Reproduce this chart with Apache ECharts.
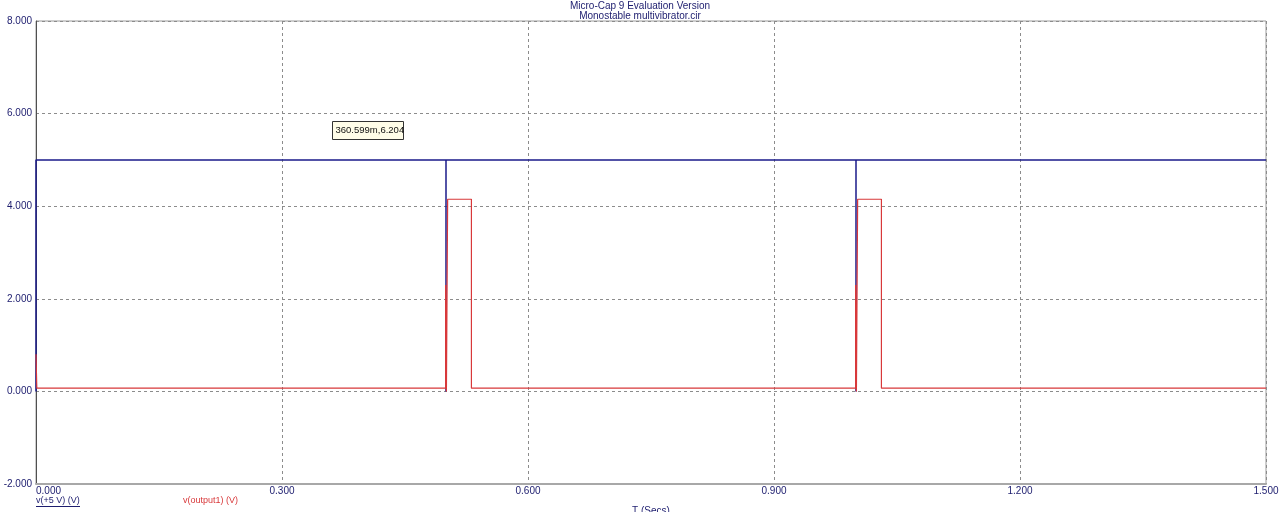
<!DOCTYPE html>
<html><head><meta charset="utf-8">
<script src="https://cdn.jsdelivr.net/npm/echarts@6/dist/echarts.min.js"></script>
<style>html,body{margin:0;padding:0;background:#fff}#c{width:1280px;height:512px}</style>
</head><body><div id="c"></div>
<script>
const titleLines = ['Micro-Cap 9 Evaluation Version', 'Monostable multivibrator.cir'];
const xName = 'T (Secs)';
const seriesNames = ['v(+5 V) (V)', 'v(output1) (V)'];
const cursorLabel = '360.599m,6.204';
const xTicks = [0, 0.3, 0.6, 0.9, 1.2, 1.5];
const yTicks = [-2, 0, 2, 4, 6, 8];
const blueT = [0, 0, 0.5, 0.5, 0.5, 1.0, 1.0, 1.0, 1.5];
const blueV = [0, 5, 5, 0, 5, 5, 0, 5, 5];
const redT = [0, 0.001, 0.4995, 0.4995, 0.5005, 0.502, 0.502, 0.531, 0.531, 0.9995, 0.9995, 1.0005, 1.002, 1.002, 1.031, 1.031, 1.5];
const redV = [0.8, 0.07, 0.07, 2.3, 0, 0, 4.15, 4.15, 0.07, 0.07, 2.3, 0, 0, 4.15, 4.15, 0.07, 0.07];

const navy = '#1c1c6e';
const blue = '#1a1a8a';
const red = '#d8383a';
const font = 'Liberation Sans';
const chart = echarts.init(document.getElementById('c'));
chart.setOption({
  animation: false,
  title: {
    text: titleLines.join('\n'), left: 'center', top: -4,
    textStyle: {fontSize: 10, fontWeight: 'normal', color: navy, fontFamily: font, lineHeight: 10}
  },
  grid: {left: 36, right: 14, top: 21, bottom: 28, show: true, borderColor: '#9a9a9a', borderWidth: 1,
    containLabel: false, outerBoundsMode: 'none'},
  xAxis: {
    type: 'value', min: xTicks[0], max: xTicks[xTicks.length - 1], interval: 0.3,
    name: xName, nameLocation: 'middle', nameGap: 22,
    nameTextStyle: {fontSize: 10, color: navy, fontFamily: font},
    axisLine: {show: true, onZero: false, lineStyle: {color: '#a8a8a8', width: 2}},
    axisTick: {show: false},
    axisLabel: {fontSize: 10, color: navy, fontFamily: font, margin: 2, alignMinLabel: 'left',
      formatter: v => v.toFixed(3)},
    splitLine: {show: true, lineStyle: {type: [3, 3], color: '#8c8c8c', width: 1}}
  },
  yAxis: {
    type: 'value', min: yTicks[0], max: yTicks[yTicks.length - 1], interval: 2,
    axisLine: {show: true, onZero: false, lineStyle: {color: '#505050', width: 1}},
    axisTick: {show: false},
    axisLabel: {fontSize: 10, color: navy, fontFamily: font, margin: 4,
      formatter: v => v.toFixed(3)},
    splitLine: {show: true, lineStyle: {type: [3, 3], color: '#8c8c8c', width: 1}}
  },
  series: [
    {name: seriesNames[0], type: 'line', showSymbol: false, data: blueT.map((t, i) => [t, blueV[i]]),
      lineStyle: {color: blue, width: 1.5}, z: 2},
    {name: seriesNames[1], type: 'line', showSymbol: false, data: redT.map((t, i) => [t, redV[i]]),
      lineStyle: {color: red, width: 1.2}, z: 3}
  ],
  graphic: [
    {type: 'text', left: 36, top: 496, style: {text: seriesNames[0], fontSize: 9, fill: navy, fontFamily: font}},
    {type: 'line', shape: {x1: 36, y1: 506.5, x2: 80, y2: 506.5}, style: {stroke: navy, lineWidth: 1}},
    {type: 'text', left: 183, top: 496, style: {text: seriesNames[1], fontSize: 9, fill: red, fontFamily: font}},
    {type: 'group', left: 332, top: 121, children: [
      {type: 'rect', shape: {x: 0, y: 0, width: 71, height: 18}, style: {fill: '#fffde8', stroke: '#333', lineWidth: 1}},
      {type: 'text', x: 3, y: 4, style: {text: cursorLabel, fontSize: 9.5, fill: '#111', fontFamily: font}}
    ]}
  ]
});
</script></body></html>
